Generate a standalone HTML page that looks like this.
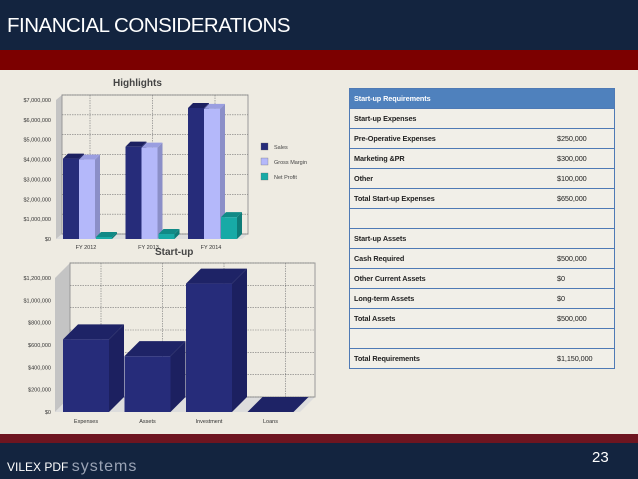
<!DOCTYPE html>
<html><head><meta charset="utf-8"><style>
body{margin:0;width:638px;height:479px;overflow:hidden;background:#eeebe2;font-family:"Liberation Sans",sans-serif;position:relative}
.hdr{position:absolute;left:0;top:0;width:638px;height:50px;background:#13243f}
.hdr h1{margin:0;position:absolute;left:7px;top:14px;font-weight:normal;font-size:20.5px;color:#fff;letter-spacing:-0.5px}
.red1{position:absolute;left:0;top:50px;width:638px;height:20px;background:#7c0000}
.red2{position:absolute;left:0;top:434px;width:638px;height:9px;background:#6e1520}
.ftr{position:absolute;left:0;top:443px;width:638px;height:36px;background:#13243f;color:#fff}
table{position:absolute;left:349px;top:88px;width:266px;border-collapse:collapse;font-size:7.3px;font-weight:bold;color:#222;letter-spacing:-0.1px}
td{height:19px;border-top:1px solid #4f7ab5;border-bottom:1px solid #4f7ab5;padding:0 0 0 4px;background:#f1efe8}
td:first-child{border-left:1.5px solid #4f7ab5}
td:last-child{border-right:1.5px solid #4f7ab5;font-weight:normal}
tr.h td{background:#4f81bd;color:#fff}
</style></head><body>
<div class="hdr"><h1>FINANCIAL CONSIDERATIONS</h1></div>
<div class="red1"></div>
<svg id="c1" width="340" height="180" style="position:absolute;left:0;top:70px" font-family="Liberation Sans, sans-serif"></svg>
<svg id="c2" width="340" height="180" style="position:absolute;left:0;top:245px" font-family="Liberation Sans, sans-serif"></svg>
<table>
<tr class="h"><td style="width:199px">Start-up Requirements</td><td></td></tr>
<tr><td>Start-up Expenses</td><td></td></tr>
<tr><td>Pre-Operative Expenses</td><td>$250,000</td></tr>
<tr><td>Marketing &amp;PR</td><td>$300,000</td></tr>
<tr><td>Other</td><td>$100,000</td></tr>
<tr><td>Total Start-up Expenses</td><td>$650,000</td></tr>
<tr><td></td><td></td></tr>
<tr><td>Start-up Assets</td><td></td></tr>
<tr><td>Cash Required</td><td>$500,000</td></tr>
<tr><td>Other Current Assets</td><td>$0</td></tr>
<tr><td>Long-term Assets</td><td>$0</td></tr>
<tr><td>Total Assets</td><td>$500,000</td></tr>
<tr><td></td><td></td></tr>
<tr><td>Total Requirements</td><td>$1,150,000</td></tr>
</table>
<div class="red2"></div>
<div class="ftr">
<span style="position:absolute;left:7px;top:15px;font-size:12px">VILEX PDF <span style="font-size:16px;color:#9aa3b5;letter-spacing:1px">systems</span></span>
<span style="position:absolute;left:592px;top:6px;font-size:15px">23</span>
</div>
<script>
const hlCats=["FY 2012","FY 2013","FY 2014"];
const hlSales=[4050000,4650000,6600000];
const hlGross=[4000000,4600000,6550000];
const hlNet=[100000,250000,1100000];
const hlTicks=[0,1000000,2000000,3000000,4000000,5000000,6000000,7000000];
const hlLegend=["Sales","Gross Margin","Net Profit"];
const suCats=["Expenses","Assets","Investment","Loans"];
const suVals=[650000,500000,1150000,0];
const suTicks=[0,200000,400000,600000,800000,1000000,1200000];
const NS="http://www.w3.org/2000/svg";
function mk(svg,t,a,txt){const e=document.createElementNS(NS,t);for(const k in a)e.setAttribute(k,a[k]);if(txt!=null)e.textContent=txt;svg.appendChild(e);return e;}
function fmt(v){return "$"+v.toLocaleString("en-US");}
function bar3d(svg,x,y0,w,yt,d,cf,ct,cs,name){
 const g=mk(svg,"g",{});
 
 
 mk(g,"polygon",{points:`${x+w},${yt} ${x+w+d},${yt-d} ${x+w+d},${y0-d} ${x+w},${y0}`,fill:cs});
 mk(g,"polygon",{points:`${x},${yt} ${x+d},${yt-d} ${x+w+d},${yt-d} ${x+w},${yt}`,fill:ct});
 mk(g,"rect",{x:x,y:yt,width:w,height:y0-yt,fill:cf});
}
// Highlights
(function(){
 const s=document.getElementById("c1");
 const L=62,R=248,B=164,d=5,max=7000000,T=25;
 const y=v=>B-(v/max)*(B-T);
 mk(s,"text",{x:113,y:16,"font-size":10,fill:"#444","font-weight":"bold"},"Highlights");
 mk(s,"polygon",{points:`${L-6},${B+5} ${L-6},${T+5} ${L},${T} ${L},${B}`,fill:"#c4c4c4"});
 mk(s,"polygon",{points:`${L-6},${B+5} ${L},${B} ${R},${B} ${R-6},${B+5}`,fill:"#ddd"});
 mk(s,"rect",{x:L,y:T,width:R-L,height:B-T,fill:"#eeebe2",stroke:"#999","stroke-width":1});
 hlTicks.forEach(t=>{const yy=y(t);
  mk(s,"line",{x1:L,x2:R,y1:yy,y2:yy,stroke:"#777","stroke-width":0.6,"stroke-dasharray":"1.5,1"});
  mk(s,"text",{x:51,y:yy+7,"font-size":5.5,fill:"#333","text-anchor":"end"},fmt(t));});
 const cw=62.5;
 hlCats.forEach((c,i)=>{const gx=L+cw*i;
  mk(s,"line",{x1:gx+28,x2:gx+28,y1:T,y2:B,stroke:"#777","stroke-width":0.6,"stroke-dasharray":"1.5,1"});
  const x0=gx+1,w=16;
  bar3d(s,x0,B+5,w,y(hlSales[i])+5,d,"#262c7a","#1c2060","#1e2366","bar-sales-"+i);
  bar3d(s,x0+w,B+5,w,y(hlGross[i])+5,d,"#b4b8fa","#9a9ee0","#8b8fc8","bar-gross-"+i);
  bar3d(s,x0+2*w+1,B+5,w,y(hlNet[i])+5,d,"#17aaa6","#108a86","#0e7c78","bar-net-"+i);
  mk(s,"text",{x:x0+23,y:B+15,"font-size":5.5,fill:"#333","text-anchor":"middle"},c);});
 const cols=["#262c7a","#b4b8fa","#17aaa6"];
 hlLegend.forEach((n,i)=>{mk(s,"rect",{x:261,y:73+i*15,width:7,height:7,fill:cols[i],stroke:"#666","stroke-width":0.3});
  mk(s,"text",{x:274,y:79+i*15,"font-size":5.5,fill:"#444"},n);});
})();
// Start-up
(function(){
 const s=document.getElementById("c2");
 const L=63,R=300,B=167,d=15,max=1200000,T=33;
 const y=v=>B-(v/max)*(B-T);
 mk(s,"text",{x:155,y:10,"font-size":10,fill:"#444","font-weight":"bold"},"Start-up");
 mk(s,"polygon",{points:`${L-8},${B} ${L-8},${T} ${L+d-8},${T-d} ${L+d-8},${B-d}`,fill:"#c4c4c4"});
 mk(s,"polygon",{points:`${L-8},${B} ${L+d-8},${B-d} ${R+d},${B-d} ${R},${B}`,fill:"#ddd"});
 mk(s,"rect",{x:L+d-8,y:T-d,width:R-L+8,height:B-T,fill:"#eeebe2",stroke:"#999","stroke-width":1});
 suTicks.forEach(t=>{const yy=y(t);
  mk(s,"line",{x1:L+d-8,x2:R+d,y1:yy-d,y2:yy-d,stroke:"#777","stroke-width":0.6,"stroke-dasharray":"1.5,1"});
  mk(s,"text",{x:51,y:yy+2,"font-size":5.5,fill:"#333","text-anchor":"end"},fmt(t));});
 const cw=61.5;
 suCats.forEach((c,i)=>{const x0=L+cw*i;
  mk(s,"line",{x1:x0+38,x2:x0+38,y1:T-d,y2:B-d,stroke:"#777","stroke-width":0.6,"stroke-dasharray":"1.5,1"});
  bar3d(s,x0,B,46,y(suVals[i]),d,"#262c7a","#1e2366","#1c2060","bar-startup-"+i);
  mk(s,"text",{x:x0+23,y:B+11,"font-size":5.5,fill:"#333","text-anchor":"middle"},c);});
})();
</script>
</body></html>
